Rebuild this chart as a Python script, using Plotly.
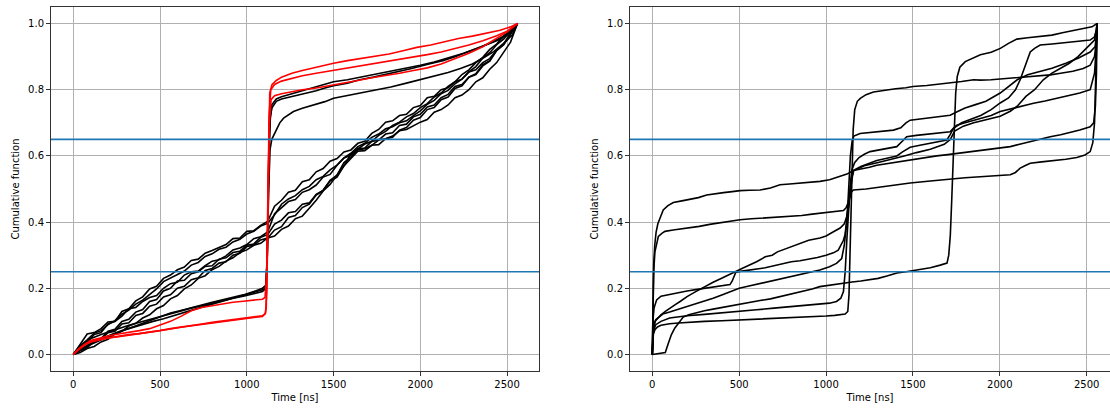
import plotly.graph_objects as go

# ---------------- data ----------------
X_TICKS = [0, 500, 1000, 1500, 2000, 2500]
Y_TICKS = [0.0, 0.2, 0.4, 0.6, 0.8, 1.0]
THRESHOLDS = [0.25, 0.65]
X_LABEL = "Time [ns]"
Y_LABEL = "Cumulative function"

# common time grid (ns) for the diagonal black curves of the left panel
DIAG_T = [0, 40, 80, 120, 160, 200, 240, 280, 320, 360,
          400, 440, 480, 520, 560, 600, 640, 680, 720, 760,
          800, 840, 880, 920, 960, 1000, 1040, 1080, 1120, 1160,
          1200, 1240, 1280, 1320, 1360, 1400, 1440, 1480, 1520, 1560,
          1600, 1640, 1680, 1720, 1760, 1800, 1840, 1880, 1920, 1960,
          2000, 2040, 2080, 2120, 2160, 2200, 2240, 2280, 2320, 2360,
          2400, 2440, 2480, 2520, 2560]
D1_V = [0, 0.03, 0.062, 0.066, 0.078, 0.098, 0.1, 0.116, 0.138, 0.142,
        0.16, 0.172, 0.178, 0.2, 0.214, 0.218, 0.24, 0.25, 0.252, 0.268,
        0.282, 0.286, 0.298, 0.316, 0.322, 0.332, 0.35, 0.356, 0.37, 0.425,
        0.444, 0.462, 0.468, 0.49, 0.498, 0.512, 0.536, 0.544, 0.572, 0.594,
        0.602, 0.618, 0.622, 0.632, 0.648, 0.652, 0.66, 0.676, 0.68, 0.692,
        0.702, 0.71, 0.732, 0.74, 0.754, 0.776, 0.784, 0.8, 0.824, 0.836,
        0.862, 0.882, 0.912, 0.944, 1.0]
D2_V = [0, 0.022, 0.038, 0.06, 0.066, 0.092, 0.1, 0.13, 0.138, 0.162,
        0.174, 0.198, 0.206, 0.23, 0.24, 0.256, 0.264, 0.284, 0.288, 0.306,
        0.314, 0.324, 0.332, 0.35, 0.352, 0.372, 0.374, 0.39, 0.402, 0.448,
        0.466, 0.49, 0.496, 0.522, 0.528, 0.552, 0.562, 0.584, 0.592, 0.612,
        0.618, 0.638, 0.644, 0.668, 0.68, 0.702, 0.706, 0.722, 0.726, 0.746,
        0.752, 0.776, 0.78, 0.8, 0.806, 0.824, 0.832, 0.854, 0.86, 0.882,
        0.894, 0.92, 0.936, 0.968, 1.0]
D3_V = [0, 0.016, 0.024, 0.042, 0.048, 0.07, 0.076, 0.1, 0.106, 0.128,
        0.136, 0.16, 0.166, 0.192, 0.2, 0.222, 0.224, 0.244, 0.25, 0.266,
        0.268, 0.288, 0.292, 0.308, 0.312, 0.33, 0.334, 0.354, 0.362, 0.394,
        0.406, 0.428, 0.432, 0.454, 0.458, 0.484, 0.496, 0.526, 0.542, 0.58,
        0.596, 0.622, 0.624, 0.644, 0.648, 0.666, 0.67, 0.692, 0.696, 0.718,
        0.726, 0.748, 0.754, 0.776, 0.786, 0.81, 0.816, 0.838, 0.846, 0.872,
        0.886, 0.918, 0.936, 0.97, 1.0]
D4_V = [0, 0.012, 0.02, 0.04, 0.046, 0.066, 0.07, 0.092, 0.096, 0.118,
        0.124, 0.146, 0.152, 0.174, 0.18, 0.2, 0.206, 0.226, 0.232, 0.254,
        0.26, 0.276, 0.28, 0.3, 0.306, 0.326, 0.33, 0.346, 0.352, 0.376,
        0.386, 0.414, 0.42, 0.444, 0.454, 0.482, 0.496, 0.524, 0.536, 0.57,
        0.592, 0.614, 0.616, 0.632, 0.634, 0.652, 0.656, 0.678, 0.686, 0.708,
        0.716, 0.74, 0.746, 0.77, 0.778, 0.804, 0.812, 0.838, 0.848, 0.876,
        0.888, 0.92, 0.938, 0.972, 1.0]
D5_V = [0, 0.006, 0.018, 0.024, 0.038, 0.046, 0.062, 0.07, 0.086, 0.094,
        0.11, 0.12, 0.138, 0.148, 0.168, 0.178, 0.198, 0.21, 0.23, 0.238,
        0.256, 0.266, 0.282, 0.292, 0.308, 0.316, 0.33, 0.336, 0.352, 0.358,
        0.378, 0.388, 0.41, 0.418, 0.442, 0.466, 0.494, 0.514, 0.542, 0.57,
        0.606, 0.62, 0.636, 0.644, 0.662, 0.674, 0.692, 0.702, 0.718, 0.728,
        0.746, 0.758, 0.778, 0.79, 0.81, 0.824, 0.846, 0.86, 0.882, 0.898,
        0.922, 0.938, 0.962, 0.978, 1.0]
D6_V = [0, 0.026, 0.044, 0.064, 0.072, 0.09, 0.102, 0.122, 0.134, 0.152,
        0.164, 0.182, 0.198, 0.22, 0.23, 0.242, 0.252, 0.27, 0.278, 0.296,
        0.304, 0.318, 0.324, 0.34, 0.348, 0.364, 0.372, 0.388, 0.396, 0.422,
        0.454, 0.47, 0.48, 0.498, 0.508, 0.528, 0.538, 0.558, 0.572, 0.594,
        0.608, 0.628, 0.638, 0.656, 0.666, 0.682, 0.688, 0.7, 0.706, 0.722,
        0.736, 0.756, 0.768, 0.788, 0.798, 0.818, 0.832, 0.854, 0.87, 0.896,
        0.912, 0.936, 0.953, 0.977, 1.0]

# Left panel: red curves
LR1_T = [0, 20, 50, 80, 120, 160, 200, 260, 320, 380, 440, 500, 560, 620, 680, 740, 800, 860, 920, 980, 1040, 1090, 1105, 1112, 1118, 1124, 1132, 1145, 1170, 1200, 1260, 1320, 1380, 1440, 1500, 1580, 1660, 1740, 1820, 1900, 1980, 2060, 2140, 2220, 2300, 2380, 2460, 2520, 2560]
LR1_V = [0, 0.012, 0.025, 0.035, 0.04, 0.045, 0.05, 0.054, 0.058, 0.062, 0.066, 0.072, 0.078, 0.082, 0.088, 0.092, 0.097, 0.101, 0.105, 0.11, 0.113, 0.117, 0.122, 0.14, 0.3, 0.6, 0.79, 0.815, 0.828, 0.838, 0.85, 0.858, 0.866, 0.872, 0.88, 0.888, 0.894, 0.902, 0.908, 0.918, 0.928, 0.935, 0.945, 0.955, 0.962, 0.97, 0.98, 0.99, 1.0]
LR2_T = [0, 30, 70, 110, 150, 200, 260, 320, 380, 440, 500, 560, 620, 680, 740, 800, 860, 920, 980, 1040, 1090, 1108, 1116, 1122, 1128, 1138, 1160, 1200, 1260, 1320, 1400, 1480, 1560, 1640, 1720, 1800, 1880, 1960, 2040, 2120, 2200, 2280, 2360, 2440, 2500, 2560]
LR2_V = [0, 0.015, 0.03, 0.04, 0.045, 0.05, 0.055, 0.06, 0.063, 0.067, 0.072, 0.077, 0.082, 0.086, 0.09, 0.095, 0.1, 0.103, 0.108, 0.112, 0.115, 0.125, 0.2, 0.45, 0.72, 0.8, 0.816, 0.826, 0.834, 0.842, 0.85, 0.857, 0.864, 0.87, 0.876, 0.883, 0.89, 0.898, 0.906, 0.914, 0.924, 0.935, 0.948, 0.963, 0.977, 1.0]
LR3_T = [0, 25, 60, 100, 150, 200, 260, 320, 380, 440, 500, 560, 620, 680, 740, 800, 860, 920, 980, 1040, 1090, 1105, 1115, 1122, 1130, 1140, 1160, 1200, 1260, 1320, 1400, 1480, 1560, 1640, 1720, 1800, 1880, 1960, 2040, 2120, 2200, 2280, 2360, 2440, 2500, 2560]
LR3_V = [0, 0.012, 0.028, 0.042, 0.05, 0.056, 0.062, 0.066, 0.072, 0.078, 0.088, 0.1, 0.115, 0.132, 0.142, 0.148, 0.153, 0.158, 0.161, 0.164, 0.167, 0.172, 0.25, 0.5, 0.7, 0.77, 0.782, 0.788, 0.795, 0.8, 0.805, 0.812, 0.82, 0.828, 0.836, 0.842, 0.85, 0.858, 0.866, 0.878, 0.893, 0.91, 0.93, 0.955, 0.975, 1.0]

# Left panel: black curves with jump near 1120 ns
BJ1_T = [0, 30, 60, 100, 150, 200, 250, 300, 350, 400, 450, 500, 560, 620, 680, 740, 800, 860, 920, 980, 1040, 1090, 1110, 1118, 1125, 1132, 1145, 1170, 1200, 1269, 1330, 1400, 1500, 1580, 1660, 1750, 1840, 1920, 2000, 2080, 2160, 2250, 2330, 2400, 2450, 2510, 2560]
BJ1_V = [0, 0.01, 0.02, 0.03, 0.042, 0.055, 0.065, 0.075, 0.085, 0.095, 0.105, 0.115, 0.125, 0.133, 0.142, 0.15, 0.158, 0.165, 0.172, 0.18, 0.19, 0.2, 0.21, 0.3, 0.55, 0.7, 0.755, 0.772, 0.779, 0.789, 0.8, 0.81, 0.824, 0.83, 0.838, 0.849, 0.856, 0.864, 0.874, 0.884, 0.896, 0.91, 0.925, 0.94, 0.95, 0.97, 1.0]
BJ2_T = [0, 40, 80, 120, 170, 220, 280, 340, 400, 460, 520, 580, 640, 700, 760, 820, 880, 940, 1000, 1050, 1095, 1112, 1120, 1128, 1136, 1145, 1170, 1200, 1250, 1300, 1350, 1400, 1450, 1500, 1580, 1650, 1730, 1800, 1880, 1950, 2050, 2130, 2200, 2280, 2350, 2420, 2480, 2560]
BJ2_V = [0, 0.014, 0.028, 0.038, 0.05, 0.06, 0.072, 0.082, 0.092, 0.1, 0.108, 0.118, 0.128, 0.138, 0.146, 0.155, 0.164, 0.172, 0.18, 0.188, 0.196, 0.205, 0.35, 0.6, 0.72, 0.745, 0.765, 0.772, 0.778, 0.784, 0.79, 0.797, 0.805, 0.812, 0.82, 0.83, 0.838, 0.846, 0.855, 0.864, 0.878, 0.888, 0.9, 0.915, 0.93, 0.945, 0.962, 1.0]
BJ3_T = [0, 30, 70, 110, 160, 210, 260, 320, 380, 440, 500, 560, 620, 680, 740, 800, 860, 920, 980, 1040, 1090, 1110, 1118, 1126, 1134, 1144, 1165, 1190, 1212, 1240, 1269, 1320, 1400, 1450, 1500, 1580, 1660, 1750, 1830, 1920, 2000, 2080, 2160, 2231, 2300, 2360, 2423, 2480, 2530, 2560]
BJ3_V = [0, 0.02, 0.038, 0.05, 0.06, 0.07, 0.078, 0.088, 0.097, 0.106, 0.115, 0.124, 0.132, 0.14, 0.147, 0.155, 0.163, 0.17, 0.176, 0.183, 0.19, 0.2, 0.3, 0.5, 0.62, 0.65, 0.675, 0.7, 0.714, 0.725, 0.734, 0.744, 0.755, 0.764, 0.774, 0.782, 0.79, 0.8, 0.808, 0.82, 0.83, 0.84, 0.852, 0.864, 0.878, 0.895, 0.915, 0.94, 0.965, 1.0]

# Right panel curves
RA_T = [0, 3, 8, 14, 22, 32, 45, 63, 90, 121, 170, 217, 265, 313, 360, 410, 460, 505, 560, 620, 680, 735, 790, 850, 910, 965, 1020, 1081, 1120, 1157, 1200, 1250, 1292, 1340, 1370, 1420, 1470, 1500, 1560, 1637, 1700, 1760, 1820, 1887, 1950, 2002, 2060, 2120, 2180, 2232, 2290, 2350, 2400, 2460, 2520, 2540, 2550, 2556, 2560]
RA_V = [0, 0.15, 0.27, 0.33, 0.37, 0.395, 0.415, 0.437, 0.45, 0.459, 0.464, 0.469, 0.474, 0.482, 0.486, 0.489, 0.492, 0.495, 0.496, 0.497, 0.503, 0.513, 0.515, 0.518, 0.52, 0.523, 0.528, 0.538, 0.545, 0.556, 0.56, 0.566, 0.572, 0.576, 0.58, 0.584, 0.588, 0.59, 0.594, 0.6, 0.604, 0.608, 0.612, 0.617, 0.62, 0.623, 0.628, 0.636, 0.644, 0.651, 0.658, 0.664, 0.67, 0.678, 0.688, 0.7, 0.75, 0.85, 1.0]
RB_T = [0, 3, 8, 15, 25, 35, 55, 73, 120, 170, 217, 270, 330, 390, 450, 505, 570, 640, 720, 793, 860, 920, 965, 1030, 1100, 1115, 1128, 1138, 1148, 1157, 1200, 1250, 1292, 1350, 1407, 1440, 1484, 1540, 1600, 1660, 1695, 1715, 1733, 1780, 1830, 1890, 1950, 2002, 2050, 2090, 2117, 2150, 2175, 2200, 2232, 2300, 2380, 2450, 2520, 2545, 2556, 2560]
RB_V = [0, 0.14, 0.25, 0.31, 0.34, 0.357, 0.366, 0.372, 0.376, 0.379, 0.382, 0.387, 0.393, 0.398, 0.403, 0.407, 0.41, 0.412, 0.415, 0.417, 0.42, 0.424, 0.427, 0.431, 0.435, 0.443, 0.46, 0.49, 0.525, 0.556, 0.568, 0.578, 0.586, 0.593, 0.6, 0.612, 0.626, 0.632, 0.638, 0.644, 0.648, 0.665, 0.683, 0.7, 0.71, 0.722, 0.74, 0.76, 0.775, 0.8, 0.83, 0.88, 0.914, 0.925, 0.935, 0.938, 0.942, 0.946, 0.95, 0.96, 0.98, 1.0]
RC_T = [0, 2, 6, 15, 30, 50, 75, 100, 130, 160, 200, 250, 300, 350, 390, 420, 450, 480, 510, 550, 600, 650, 690, 720, 760, 800, 850, 900, 965, 1000, 1040, 1081, 1105, 1119, 1128, 1138, 1148, 1160, 1220, 1300, 1380, 1450, 1520, 1600, 1680, 1715, 1740, 1790, 1850, 1920, 2002, 2060, 2100, 2150, 2200, 2250, 2300, 2350, 2400, 2450, 2520, 2545, 2560]
RC_V = [0, 0.05, 0.08, 0.1, 0.11, 0.12, 0.13, 0.14, 0.15, 0.16, 0.175, 0.19, 0.205, 0.218, 0.228, 0.235, 0.242, 0.25, 0.258, 0.268, 0.28, 0.295, 0.3, 0.31, 0.318, 0.327, 0.336, 0.345, 0.352, 0.358, 0.37, 0.382, 0.395, 0.417, 0.45, 0.5, 0.535, 0.556, 0.57, 0.58, 0.59, 0.6, 0.61, 0.62, 0.635, 0.65, 0.675, 0.69, 0.7, 0.71, 0.72, 0.735, 0.75, 0.78, 0.8, 0.83, 0.85, 0.865, 0.88, 0.9, 0.935, 0.95, 1.0]
RD_T = [0, 2, 5, 10, 25, 50, 100, 150, 200, 250, 300, 350, 400, 447, 460, 470, 480, 505, 550, 600, 650, 700, 750, 800, 850, 889, 950, 1000, 1042, 1070, 1081, 1100, 1109, 1118, 1125, 1132, 1140, 1150, 1160, 1196, 1250, 1320, 1388, 1430, 1460, 1484, 1550, 1620, 1714, 1760, 1800, 1860, 1920, 2002, 2050, 2100, 2160, 2230, 2300, 2380, 2450, 2520, 2548, 2556, 2560]
RD_V = [0, 0.06, 0.11, 0.14, 0.165, 0.176, 0.182, 0.188, 0.192, 0.196, 0.2, 0.203, 0.206, 0.211, 0.222, 0.238, 0.248, 0.251, 0.254, 0.258, 0.262, 0.268, 0.274, 0.28, 0.283, 0.286, 0.293, 0.3, 0.307, 0.315, 0.327, 0.345, 0.362, 0.4, 0.45, 0.52, 0.6, 0.645, 0.66, 0.668, 0.671, 0.674, 0.678, 0.685, 0.7, 0.708, 0.712, 0.716, 0.723, 0.735, 0.745, 0.755, 0.765, 0.79, 0.81, 0.83, 0.845, 0.855, 0.865, 0.88, 0.895, 0.914, 0.93, 0.96, 1.0]
RX_T = [0, 2, 6, 20, 40, 60, 100, 150, 200, 250, 300, 350, 400, 450, 500, 550, 600, 650, 700, 750, 800, 850, 900, 964, 1020, 1060, 1090, 1105, 1115, 1125, 1135, 1145, 1157, 1230, 1300, 1400, 1484, 1600, 1700, 1800, 1887, 1960, 2020, 2060, 2090, 2117, 2150, 2175, 2240, 2300, 2380, 2443, 2490, 2520, 2535, 2545, 2552, 2560]
RX_V = [0, 0.05, 0.08, 0.105, 0.115, 0.122, 0.128, 0.136, 0.145, 0.153, 0.162, 0.17, 0.18, 0.19, 0.2, 0.206, 0.212, 0.218, 0.224, 0.23, 0.236, 0.242, 0.248, 0.255, 0.265, 0.275, 0.29, 0.33, 0.38, 0.43, 0.47, 0.49, 0.497, 0.5, 0.505, 0.512, 0.518, 0.524, 0.53, 0.534, 0.537, 0.539, 0.541, 0.543, 0.55, 0.563, 0.572, 0.578, 0.582, 0.585, 0.59, 0.595, 0.603, 0.613, 0.64, 0.7, 0.82, 1.0]
RY_T = [0, 2, 6, 20, 50, 100, 150, 200, 300, 400, 500, 600, 700, 800, 900, 964, 1020, 1060, 1085, 1100, 1110, 1120, 1130, 1140, 1150, 1165, 1190, 1220, 1253, 1300, 1350, 1407, 1440, 1464, 1520, 1600, 1680, 1714, 1735, 1752, 1800, 1850, 1887, 1950, 2002, 2060, 2130, 2194, 2260, 2330, 2400, 2460, 2520, 2545, 2555, 2560]
RY_V = [0, 0.04, 0.07, 0.09, 0.1, 0.11, 0.114, 0.117, 0.121, 0.125, 0.13, 0.135, 0.14, 0.145, 0.148, 0.151, 0.155, 0.16, 0.17, 0.19, 0.25, 0.35, 0.45, 0.52, 0.56, 0.58, 0.595, 0.605, 0.613, 0.618, 0.622, 0.628, 0.645, 0.658, 0.662, 0.667, 0.671, 0.673, 0.685, 0.693, 0.7, 0.708, 0.713, 0.722, 0.734, 0.742, 0.75, 0.759, 0.766, 0.774, 0.782, 0.79, 0.8, 0.85, 0.93, 1.0]
RL2_T = [0, 2, 6, 15, 30, 50, 80, 100, 150, 200, 300, 400, 500, 600, 700, 800, 900, 1000, 1050, 1090, 1110, 1125, 1132, 1140, 1148, 1156, 1165, 1180, 1197, 1230, 1273, 1330, 1400, 1460, 1500, 1580, 1650, 1715, 1780, 1849, 1887, 1950, 2002, 2080, 2150, 2233, 2290, 2350, 2420, 2480, 2520, 2545, 2556, 2560]
RL2_V = [0, 0.04, 0.06, 0.075, 0.083, 0.088, 0.091, 0.093, 0.095, 0.097, 0.1, 0.102, 0.104, 0.106, 0.108, 0.11, 0.113, 0.116, 0.118, 0.12, 0.122, 0.13, 0.18, 0.35, 0.55, 0.68, 0.74, 0.765, 0.774, 0.785, 0.793, 0.798, 0.803, 0.806, 0.81, 0.813, 0.817, 0.82, 0.825, 0.83, 0.829, 0.83, 0.832, 0.835, 0.838, 0.842, 0.845, 0.85, 0.856, 0.864, 0.874, 0.9, 0.95, 1.0]
RL1_T = [0, 30, 60, 75, 90, 110, 130, 150, 178, 210, 250, 300, 350, 400, 450, 500, 560, 620, 680, 740, 800, 860, 920, 964, 1000, 1050, 1100, 1150, 1200, 1250, 1300, 1350, 1408, 1460, 1500, 1542, 1600, 1657, 1680, 1696, 1706, 1715, 1722, 1730, 1738, 1746, 1755, 1770, 1801, 1850, 1888, 1950, 2003, 2050, 2098, 2160, 2233, 2300, 2360, 2425, 2480, 2530, 2560]
RL1_V = [0, 0.002, 0.003, 0.006, 0.03, 0.06, 0.08, 0.095, 0.113, 0.12, 0.126, 0.132, 0.137, 0.142, 0.148, 0.153, 0.158, 0.163, 0.168, 0.175, 0.182, 0.19, 0.198, 0.205, 0.208, 0.212, 0.216, 0.219, 0.222, 0.226, 0.23, 0.237, 0.246, 0.25, 0.253, 0.256, 0.262, 0.27, 0.273, 0.276, 0.3, 0.36, 0.45, 0.58, 0.7, 0.79, 0.84, 0.868, 0.885, 0.896, 0.906, 0.913, 0.925, 0.94, 0.953, 0.957, 0.96, 0.965, 0.972, 0.98, 0.985, 0.99, 1.0]

LEFT_BLACK = [(BJ1_T, BJ1_V), (BJ2_T, BJ2_V), (BJ3_T, BJ3_V),
              (DIAG_T, D1_V), (DIAG_T, D2_V), (DIAG_T, D3_V),
              (DIAG_T, D4_V), (DIAG_T, D5_V), (DIAG_T, D6_V)]
LEFT_RED = [(LR1_T, LR1_V), (LR2_T, LR2_V), (LR3_T, LR3_V)]
RIGHT_BLACK = [(RA_T, RA_V), (RB_T, RB_V), (RC_T, RC_V), (RD_T, RD_V), (RX_T, RX_V),
               (RY_T, RY_V), (RL2_T, RL2_V), (RL1_T, RL1_V)]

# ---------------- figure ----------------
W, H = 1110, 408
fig = go.Figure()

def add_curve(t, v, color, xa, ya):
    fig.add_trace(go.Scatter(x=t, y=v, mode="lines", xaxis=xa, yaxis=ya,
                             line=dict(color=color, width=1.6),
                             showlegend=False, hoverinfo="skip"))

for t, v in LEFT_BLACK:
    add_curve(t, v, "black", "x", "y")
for t, v in LEFT_RED:
    add_curve(t, v, "red", "x", "y")
for t, v in RIGHT_BLACK:
    add_curve(t, v, "black", "x2", "y2")

for xa_dom, ya in (("x domain", "y"), ("x2 domain", "y2")):
    for yv in THRESHOLDS:
        fig.add_shape(type="line", xref=xa_dom, yref=ya, x0=0, x1=1, y0=yv, y1=yv,
                      line=dict(color="#1f77b4", width=1.6), layer="above")

FONT = dict(family="DejaVu Sans", size=10, color="black")
common_x = dict(tickvals=X_TICKS, ticks="outside", ticklen=4, tickwidth=0.8, tickcolor="#333",
                showgrid=True, gridcolor="#b0b0b0", gridwidth=0.8, zeroline=False,
                showline=True, linecolor="#333", linewidth=1, mirror=True,
                tickfont=FONT, title=dict(text=X_LABEL, font=FONT, standoff=4))
common_y = dict(tickvals=Y_TICKS, tickformat=".1f", range=[-0.05, 1.05], domain=[0, 1],
                ticks="outside", ticklen=4, tickwidth=0.8, tickcolor="#333",
                showgrid=True, gridcolor="#b0b0b0", gridwidth=0.8, zeroline=False,
                showline=True, linecolor="#333", linewidth=1,
                tickfont=FONT, title=dict(text=Y_LABEL, font=FONT, standoff=6))

fig.update_layout(
    width=W, height=H,
    margin=dict(l=0, r=0, t=7, b=37),
    paper_bgcolor="white", plot_bgcolor="white",
    font=FONT,
    xaxis=dict(common_x, domain=[51 / W, 539 / W], range=[-128.5, 2684], anchor="y"),
    yaxis=dict(common_y, anchor="x", mirror=True),
    xaxis2=dict(common_x, domain=[630 / W, 1.0], range=[-128.3, 2634], anchor="y2"),
    yaxis2=dict(common_y, anchor="x2", mirror=False),
)

fig.write_html("out.html",
               config={"displayModeBar": False},
               post_script="document.body.style.margin='0';document.body.style.overflow='hidden';")
